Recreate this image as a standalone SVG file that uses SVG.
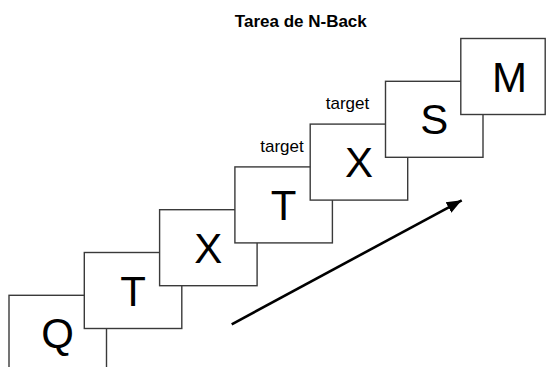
<svg xmlns="http://www.w3.org/2000/svg" width="546" height="367" viewBox="0 0 546 367">
  <style>
    .card rect { fill: #ffffff; stroke: #3a3a3a; stroke-width: 1.4; }
    .card text { font-family: "Liberation Sans", Arial, sans-serif; font-size: 42px; fill: #000; text-anchor: middle; }
    .title { font-family: "Liberation Sans", Arial, sans-serif; font-size: 17px; font-weight: bold; fill: #000; text-anchor: middle; }
    .lbl { font-family: "Liberation Sans", Arial, sans-serif; font-size: 17px; fill: #000; text-anchor: middle; }
    .conn { stroke: #000; stroke-width: 2.6; fill: none; }
  </style>
  <defs>
    <marker id="arrow" markerUnits="userSpaceOnUse" markerWidth="17" markerHeight="14" viewBox="0 0 17 14" refX="15" refY="7" orient="auto">
      <path d="M0,1 L15,7 L0,13 Z" fill="#000"/>
    </marker>
  </defs>
  <rect width="546" height="367" fill="#ffffff"/>
  <text class="title" x="300.8" y="26.7">Tarea de N-Back</text>

  <g id="card-q" class="card">
    <rect x="9" y="295.3" width="97.5" height="76"/>
    <text x="57.7" y="348.3">Q</text>
  </g>
  <g id="card-t1" class="card">
    <rect x="84.3" y="252.5" width="97.5" height="76"/>
    <text x="133" y="305.5">T</text>
  </g>
  <g id="card-x1" class="card">
    <rect x="159.6" y="209.7" width="97.5" height="76"/>
    <text x="208.3" y="262.7">X</text>
  </g>
  <g id="card-t2" class="card">
    <rect x="234.9" y="166.9" width="97.5" height="76"/>
    <text x="283.6" y="219.9">T</text>
  </g>
  <g id="card-x2" class="card">
    <rect x="310.2" y="124.1" width="97.5" height="76"/>
    <text x="358.9" y="177.1">X</text>
  </g>
  <g id="card-s" class="card">
    <rect x="385.5" y="81.3" width="97.5" height="76"/>
    <text x="434.2" y="134.3">S</text>
  </g>
  <g id="card-m" class="card">
    <rect x="460.8" y="38.5" width="84.4" height="76"/>
    <text x="509.5" y="91.5">M</text>
  </g>

  <g id="label-target-1">
    <text class="lbl" x="282" y="152">target</text>
  </g>
  <g id="label-target-2">
    <text class="lbl" x="347.5" y="109.3">target</text>
  </g>

  <g id="connectors">
    <line class="conn" x1="231.7" y1="324.3" x2="461.7" y2="200.3" marker-end="url(#arrow)"/>
  </g>
</svg>
